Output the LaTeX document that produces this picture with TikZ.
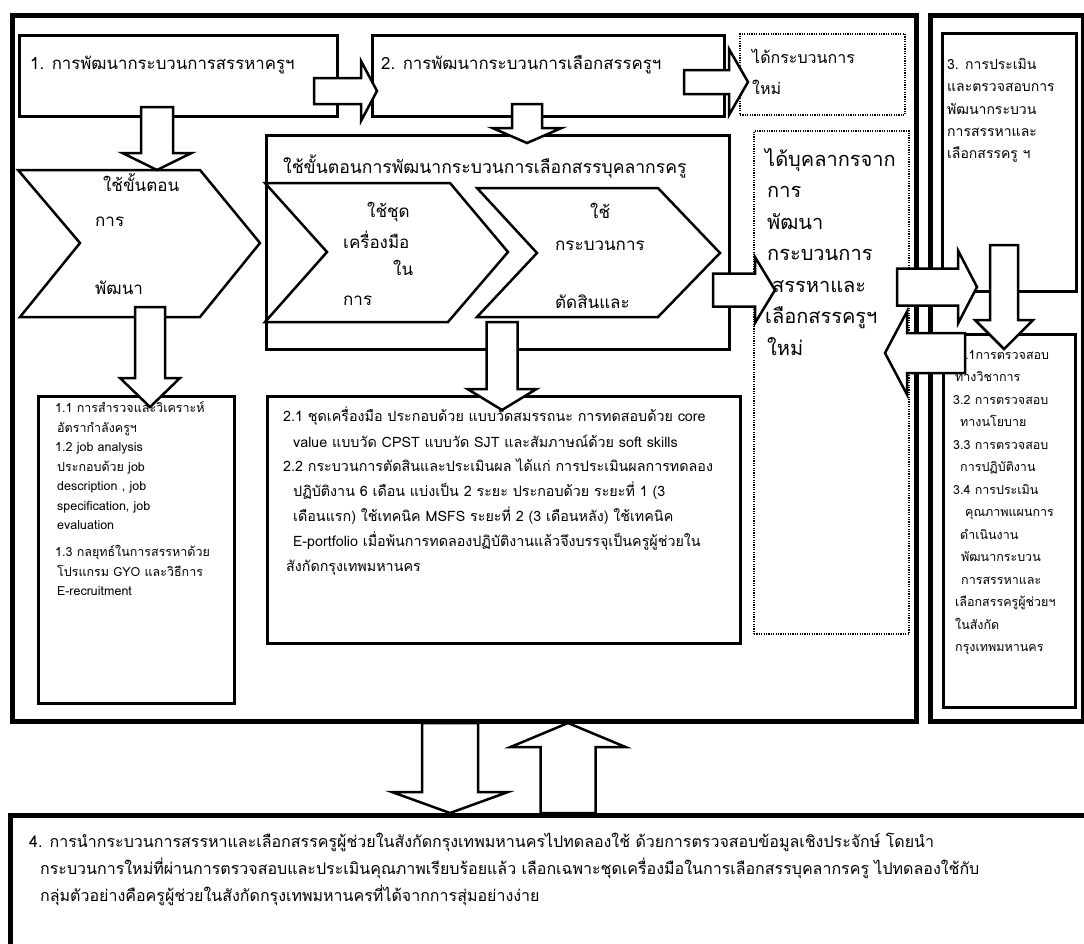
\documentclass[tikz,border=0pt]{standalone}
\usepackage{fontspec}
\setmainfont[Script=Thai]{Loma}
\usetikzlibrary{calc}
\newcommand\fs[1]{\fontsize{#1}{#1}\selectfont}
\newcommand\barrow[5]{%
  \path ($(#2)!#5!(#1)$) coordinate (hb);
  \draw[barr] ($(#1)!#3!90:(#2)$) -- ($(hb)!#3!90:(#2)$) -- ($(hb)!#4!90:(#2)$) -- (#2)
    -- ($(hb)!#4!-90:(#2)$) -- ($(hb)!#3!-90:(#2)$) -- ($(#1)!#3!-90:(#2)$) -- cycle;}
\begin{document}
\begin{tikzpicture}[x=1pt,y=-1pt,line join=miter,
  frame/.style={draw,line width=5pt,rectangle,inner sep=0pt,anchor=north west},
  box/.style={draw,line width=2.5pt,rectangle,inner sep=0pt,anchor=north west,fill=white},
  dbox/.style={draw,line width=2pt,dash pattern=on 1.2pt off 1.2pt,rectangle,inner sep=0pt,anchor=north west},
  barr/.style={draw,line width=2.5pt,fill=white},
  chev/.style={draw,line width=2.5pt,fill=white},
  lbl/.style={anchor=base west,inner sep=0pt}]
\useasboundingbox (0,0) rectangle (1084,943);
% frames
\node[frame,minimum width=904pt,minimum height=706pt] (lframe) at (10,13) {};
\node[frame,minimum width=153pt,minimum height=706pt] (rframe) at (928,13) {};
\node[frame,minimum width=1100pt,minimum height=200pt] (b4) at (8,813) {};
% boxes
\node[box,minimum width=318pt,minimum height=81pt] (b1) at (18,34) {};
\node[box,minimum width=352pt,minimum height=81pt] (b2) at (371,34) {};
\node[dbox,minimum width=165pt,minimum height=81pt] (d1) at (739,33) {};
\node[box,minimum width=134pt,minimum height=258pt] (b3) at (941,32) {};
\node[box,minimum width=463pt,minimum height=214pt] (mid) at (265,134) {};
\node[dbox,minimum width=155pt,minimum height=503pt] (d2) at (753,130) {};
\node[box,minimum width=196pt,minimum height=307pt] (b1x) at (37,395) {};
\node[box,minimum width=473pt,minimum height=247pt] (b2x) at (266,395) {};
\node[box,minimum width=132pt,minimum height=373pt] (b3x) at (942,333) {};
% chevrons
\draw[chev] (18,170) -- (200,170) -- (260,243) -- (200,317) -- (20,317) -- (80,243) -- cycle;
\draw[chev] (265,183) -- (450,183) -- (508,252) -- (448,322) -- (265,322) -- (327,252) -- cycle;
\draw[chev] (477,188) -- (658,188) -- (720,253) -- (658,317) -- (477,317) -- (537,253) -- cycle;
% texts
\node[lbl,font=\fs{16.8}] (tb1) at (30,69) {1. การพัฒนากระบวนการสรรหาครูฯ};
\node[lbl,font=\fs{16.8}] (tb2) at (381,69) {2. การพัฒนากระบวนการเลือกสรรครูฯ};
\node[lbl,font=\fs{16}] (td1a) at (752,63) {ได้กระบวนการ};
\node[lbl,font=\fs{16}] (td1b) at (752,94) {ใหม่};
\foreach \y/\t [count=\i] in {69/3. การประเมิน,91.5/และตรวจสอบการ,114/พัฒนากระบวน,136/การสรรหาและ,158/เลือกสรรครู ฯ}
  \node[lbl,font=\fs{14}] (tb3-\i) at (947,\y) {\t};
\node[lbl,font=\fs{17}] (tc1a) at (103,191) {ใช้ขั้นตอน};
\node[lbl,font=\fs{17}] (tc1b) at (95,226) {การ};
\node[lbl,font=\fs{17}] (tc1c) at (95,294) {พัฒนา};
\node[lbl,font=\fs{17.6}] (tmid) at (283,173) {ใช้ขั้นตอนการพัฒนากระบวนการเลือกสรรบุคลากรครู};
\node[lbl,font=\fs{17}] (tc2a) at (367,217) {ใช้ชุด};
\node[lbl,font=\fs{17}] (tc2b) at (343,248) {เครื่องมือ};
\node[lbl,font=\fs{17}] (tc2c) at (393,275) {ใน};
\node[lbl,font=\fs{17}] (tc2d) at (343,305) {การ};
\node[lbl,font=\fs{17}] (tc3a) at (590,218) {ใช้};
\node[lbl,font=\fs{17}] (tc3b) at (555,250) {กระบวนการ};
\node[lbl,font=\fs{17}] (tc3c) at (555,308) {ตัดสินและ};
\foreach \x/\y/\t [count=\i] in {765/166/ได้บุคลากรจาก,767/197.5/การ,767/229/พัฒนา,767/260.5/กระบวนการ,772/292/สรรหาและ,765/323.5/เลือกสรรครูฯ,767/355/ใหม่}
  \node[lbl,font=\fs{20}] (td2-\i) at (\x,\y) {\t};
\foreach \x/\y/\t [count=\i] in {55/412/1.1 การสำรวจและวิเคราะห์,57/432/อัตรากำลังครูฯ,55/451/1.2 job analysis,57/471/ประกอบด้วย job,{57/490/description , job},{57/510/specification, job},57/529/evaluation,55/556/1.3 กลยุทธ์ในการสรรหาด้วย,57/576/โปรแกรม GYO และวิธีการ,57/595/E-recruitment}
  \node[lbl,font=\fs{12.5}] (tb1x-\i) at (\x,\y) {\t};
\foreach \x/\y/\t [count=\i] in {283/421.5/2.1 ชุดเครื่องมือ ประกอบด้วย แบบวัดสมรรถนะ การทดสอบด้วย core,293/447.5/value แบบวัด CPST แบบวัด SJT และสัมภาษณ์ด้วย soft skills,283/471.5/2.2 กระบวนการตัดสินและประเมินผล ได้แก่ การประเมินผลการทดลอง,293/496.5/ปฏิบัติงาน 6 เดือน แบ่งเป็น 2 ระยะ ประกอบด้วย ระยะที่ 1 (3,293/521.5/เดือนแรก) ใช้เทคนิค MSFS ระยะที่ 2 (3 เดือนหลัง) ใช้เทคนิค,293/546.5/E-portfolio เมื่อพ้นการทดลองปฏิบัติงานแล้วจึงบรรจุเป็นครูผู้ช่วยใน,286/571.5/สังกัดกรุงเทพมหานคร}
  \node[lbl,font=\fs{14.3}] (tb2x-\i) at (\x,\y) {\t};
\foreach \x/\t [count=\i] in {958/3.1การตรวจสอบ,955/ทางวิชาการ,953/3.2 การตรวจสอบ,960/ทางนโยบาย,953/3.3 การตรวจสอบ,960/การปฏิบัติงาน,953/3.4 การประเมิน,965/คุณภาพแผนการ,960/ดำเนินงาน,961/พัฒนากระบวน,961/การสรรหาและ,955/เลือกสรรครูผู้ช่วยฯ,955/ในสังกัด,955/กรุงเทพมหานคร}
  \node[lbl,font=\fs{12.5}] (tb3x-\i) at (\x,{355+22.5*(\i-1)+4}) {\t};
\node[lbl,font=\fs{16}] (tb4a) at (29,847) {4. การนำกระบวนการสรรหาและเลือกสรรครูผู้ช่วยในสังกัดกรุงเทพมหานครไปทดลองใช้ ด้วยการตรวจสอบข้อมูลเชิงประจักษ์ โดยนำ};
\node[lbl,font=\fs{16}] (tb4b) at (40,874) {กระบวนการใหม่ที่ผ่านการตรวจสอบและประเมินคุณภาพเรียบร้อยแล้ว เลือกเฉพาะชุดเครื่องมือในการเลือกสรรบุคลากรครู ไปทดลองใช้กับ};
\node[lbl,font=\fs{16}] (tb4c) at (40,901) {กลุ่มตัวอย่างคือครูผู้ช่วยในสังกัดกรุงเทพมหานครที่ได้จากการสุ่มอย่างง่าย};
% arrow end points
\coordinate (a1s) at (314,91);  \coordinate (a1t) at (377,91);
\coordinate (a2s) at (684,82);  \coordinate (a2t) at (748,82);
\coordinate (a3s) at (157,107); \coordinate (a3t) at (157,170);
\coordinate (a4s) at (150,307); \coordinate (a4t) at (150,407);
\coordinate (a5s) at (527,104); \coordinate (a5t) at (527,143);
\coordinate (a6s) at (502,322); \coordinate (a6t) at (502,410);
\coordinate (a7s) at (713,290); \coordinate (a7t) at (775,290);
\coordinate (a8s) at (897,287); \coordinate (a8t) at (977,287);
\coordinate (a9s) at (1004,245); \coordinate (a9t) at (1004,349);
\coordinate (a10s) at (965,353); \coordinate (a10t) at (885,353);
\coordinate (a11s) at (450,723); \coordinate (a11t) at (450,813);
\coordinate (a12s) at (568,813); \coordinate (a12t) at (568,723);
\barrow{a1s}{a1t}{13pt}{30pt}{16pt}
\barrow{a2s}{a2t}{12pt}{33pt}{19pt}
\barrow{a3s}{a3t}{16pt}{34.5pt}{17pt}
\barrow{a4s}{a4t}{15pt}{30pt}{29pt}
\barrow{a5s}{a5t}{15pt}{34.5pt}{15pt}
\barrow{a6s}{a6t}{15.5pt}{34.5pt}{21pt}
\barrow{a7s}{a7t}{16.5pt}{33pt}{20pt}
\barrow{a8s}{a8t}{18.5pt}{36.5pt}{19pt}
\barrow{a9s}{a9t}{14pt}{29pt}{29pt}
\barrow{a10s}{a10t}{20pt}{41.5pt}{22pt}
\barrow{a11s}{a11t}{28pt}{58pt}{21pt}
\barrow{a12s}{a12t}{27.5pt}{57.5pt}{24pt}
\end{tikzpicture}
\end{document}
